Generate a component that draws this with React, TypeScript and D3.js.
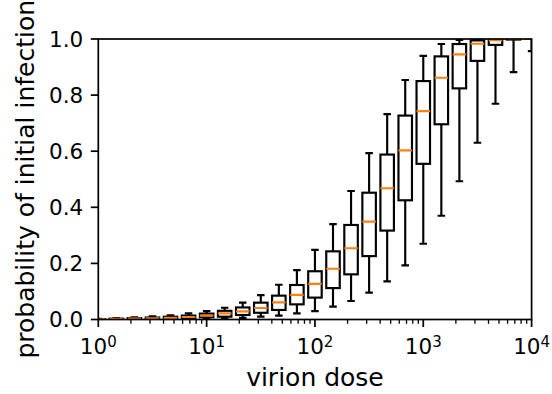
import React from "react";
import * as d3 from "d3";

const doseExponents = d3.range(0, 25).map((k) => k / 6);
const whiskerLow = [0, 0, 0, 0, 0, 0.001, 0.002, 0.004, 0.006, 0.010, 0.014, 0.022, 0.030, 0.046, 0.066, 0.096, 0.136, 0.193, 0.270, 0.370, 0.493, 0.630, 0.769, 0.882, 0.957];
const quart1 = [0, 0.001, 0.001, 0.002, 0.003, 0.005, 0.008, 0.010, 0.016, 0.024, 0.034, 0.054, 0.078, 0.112, 0.161, 0.226, 0.317, 0.425, 0.555, 0.696, 0.824, 0.922, 0.979, 0.998, 1.0];
const medians = [0.001, 0.002, 0.003, 0.004, 0.006, 0.009, 0.014, 0.022, 0.029, 0.041, 0.061, 0.088, 0.127, 0.181, 0.254, 0.349, 0.468, 0.603, 0.743, 0.862, 0.945, 0.983, 0.996, 1.0, 1.0];
const quart3 = [0.001, 0.003, 0.005, 0.007, 0.010, 0.014, 0.021, 0.031, 0.043, 0.060, 0.085, 0.123, 0.172, 0.243, 0.337, 0.452, 0.588, 0.727, 0.850, 0.938, 0.982, 0.995, 1.0, 1.0, 1.0];
const whiskerHigh = [0.002, 0.005, 0.008, 0.011, 0.015, 0.022, 0.030, 0.042, 0.060, 0.087, 0.124, 0.176, 0.248, 0.340, 0.458, 0.593, 0.732, 0.854, 0.940, 0.982, 0.997, 1.0, 1.0, 1.0, 1.0];
const yTicks = [0, 0.2, 0.4, 0.6, 0.8, 1.0];
const xTickExps = [0, 1, 2, 3, 4];

const W = 552, H = 394;
const L = 98.3, R = 531.6, T = 39, B = 319.5;
const FONT = "DejaVu Sans, sans-serif";
const FS = 21.5;
const LFS = 25;

export default function App() {
  const x = d3.scaleLog().domain([1, 1e4]).range([L, R]);
  const y = d3.scaleLinear().domain([0, 1]).range([B, T]);
  const boxW = 13.5;
  const capW = 7.5;
  const minor: number[] = [];
  for (let e = 0; e < 4; e++) for (let m = 2; m <= 9; m++) minor.push(m * Math.pow(10, e));

  return (
    <svg width={W} height={H} style={{ position: "absolute", left: 0, top: 0, background: "#fff" }} fontFamily={FONT}>
      <defs>
        <clipPath id="plotclip">
          <rect x={L} y={T} width={R - L} height={B - T} />
        </clipPath>
      </defs>
      <g clipPath="url(#plotclip)">
        {doseExponents.map((e, i) => {
          const cx = x(Math.pow(10, e));
          return (
            <g key={i} stroke="#000" strokeWidth={2.15} fill="none">
              <line x1={cx} x2={cx} y1={y(quart3[i])} y2={y(whiskerHigh[i])} />
              <line x1={cx} x2={cx} y1={y(quart1[i])} y2={y(whiskerLow[i])} />
              <line x1={cx - capW / 2} x2={cx + capW / 2} y1={y(whiskerHigh[i])} y2={y(whiskerHigh[i])} />
              <line x1={cx - capW / 2} x2={cx + capW / 2} y1={y(whiskerLow[i])} y2={y(whiskerLow[i])} />
              <rect x={cx - boxW / 2} y={y(quart3[i])} width={boxW} height={y(quart1[i]) - y(quart3[i])} />
              <line x1={cx - boxW / 2} x2={cx + boxW / 2} y1={y(medians[i])} y2={y(medians[i])} stroke="#ff7f0e" />
            </g>
          );
        })}
      </g>
      <rect x={L} y={T} width={R - L} height={B - T} fill="none" stroke="#000" strokeWidth={1.72} />
      {yTicks.map((t) => (
        <g key={t}>
          <line x1={L - 7.5} x2={L} y1={y(t)} y2={y(t)} stroke="#000" strokeWidth={1.72} />
          <text x={L - 15} y={y(t)} dy="0.36em" textAnchor="end" fontSize={FS}>{t.toFixed(1)}</text>
        </g>
      ))}
      {minor.map((m) => (
        <line key={m} x1={x(m)} x2={x(m)} y1={B} y2={B + 4.3} stroke="#000" strokeWidth={1.3} />
      ))}
      {xTickExps.map((e) => (
        <g key={e}>
          <line x1={x(Math.pow(10, e))} x2={x(Math.pow(10, e))} y1={B} y2={B + 7.5} stroke="#000" strokeWidth={1.72} />
          <text x={x(Math.pow(10, e))} y={353.5} textAnchor="middle" fontSize={FS}>
            10<tspan fontSize={15} dy={-6.5}>{e}</tspan>
          </text>
        </g>
      ))}
      <text x={(L + R) / 2} y={386} textAnchor="middle" fontSize={LFS}>virion dose</text>
      <text transform={`translate(33.5, ${(T + B) / 2}) rotate(-90)`} textAnchor="middle" fontSize={LFS}>probability of initial infection</text>
    </svg>
  );
}
